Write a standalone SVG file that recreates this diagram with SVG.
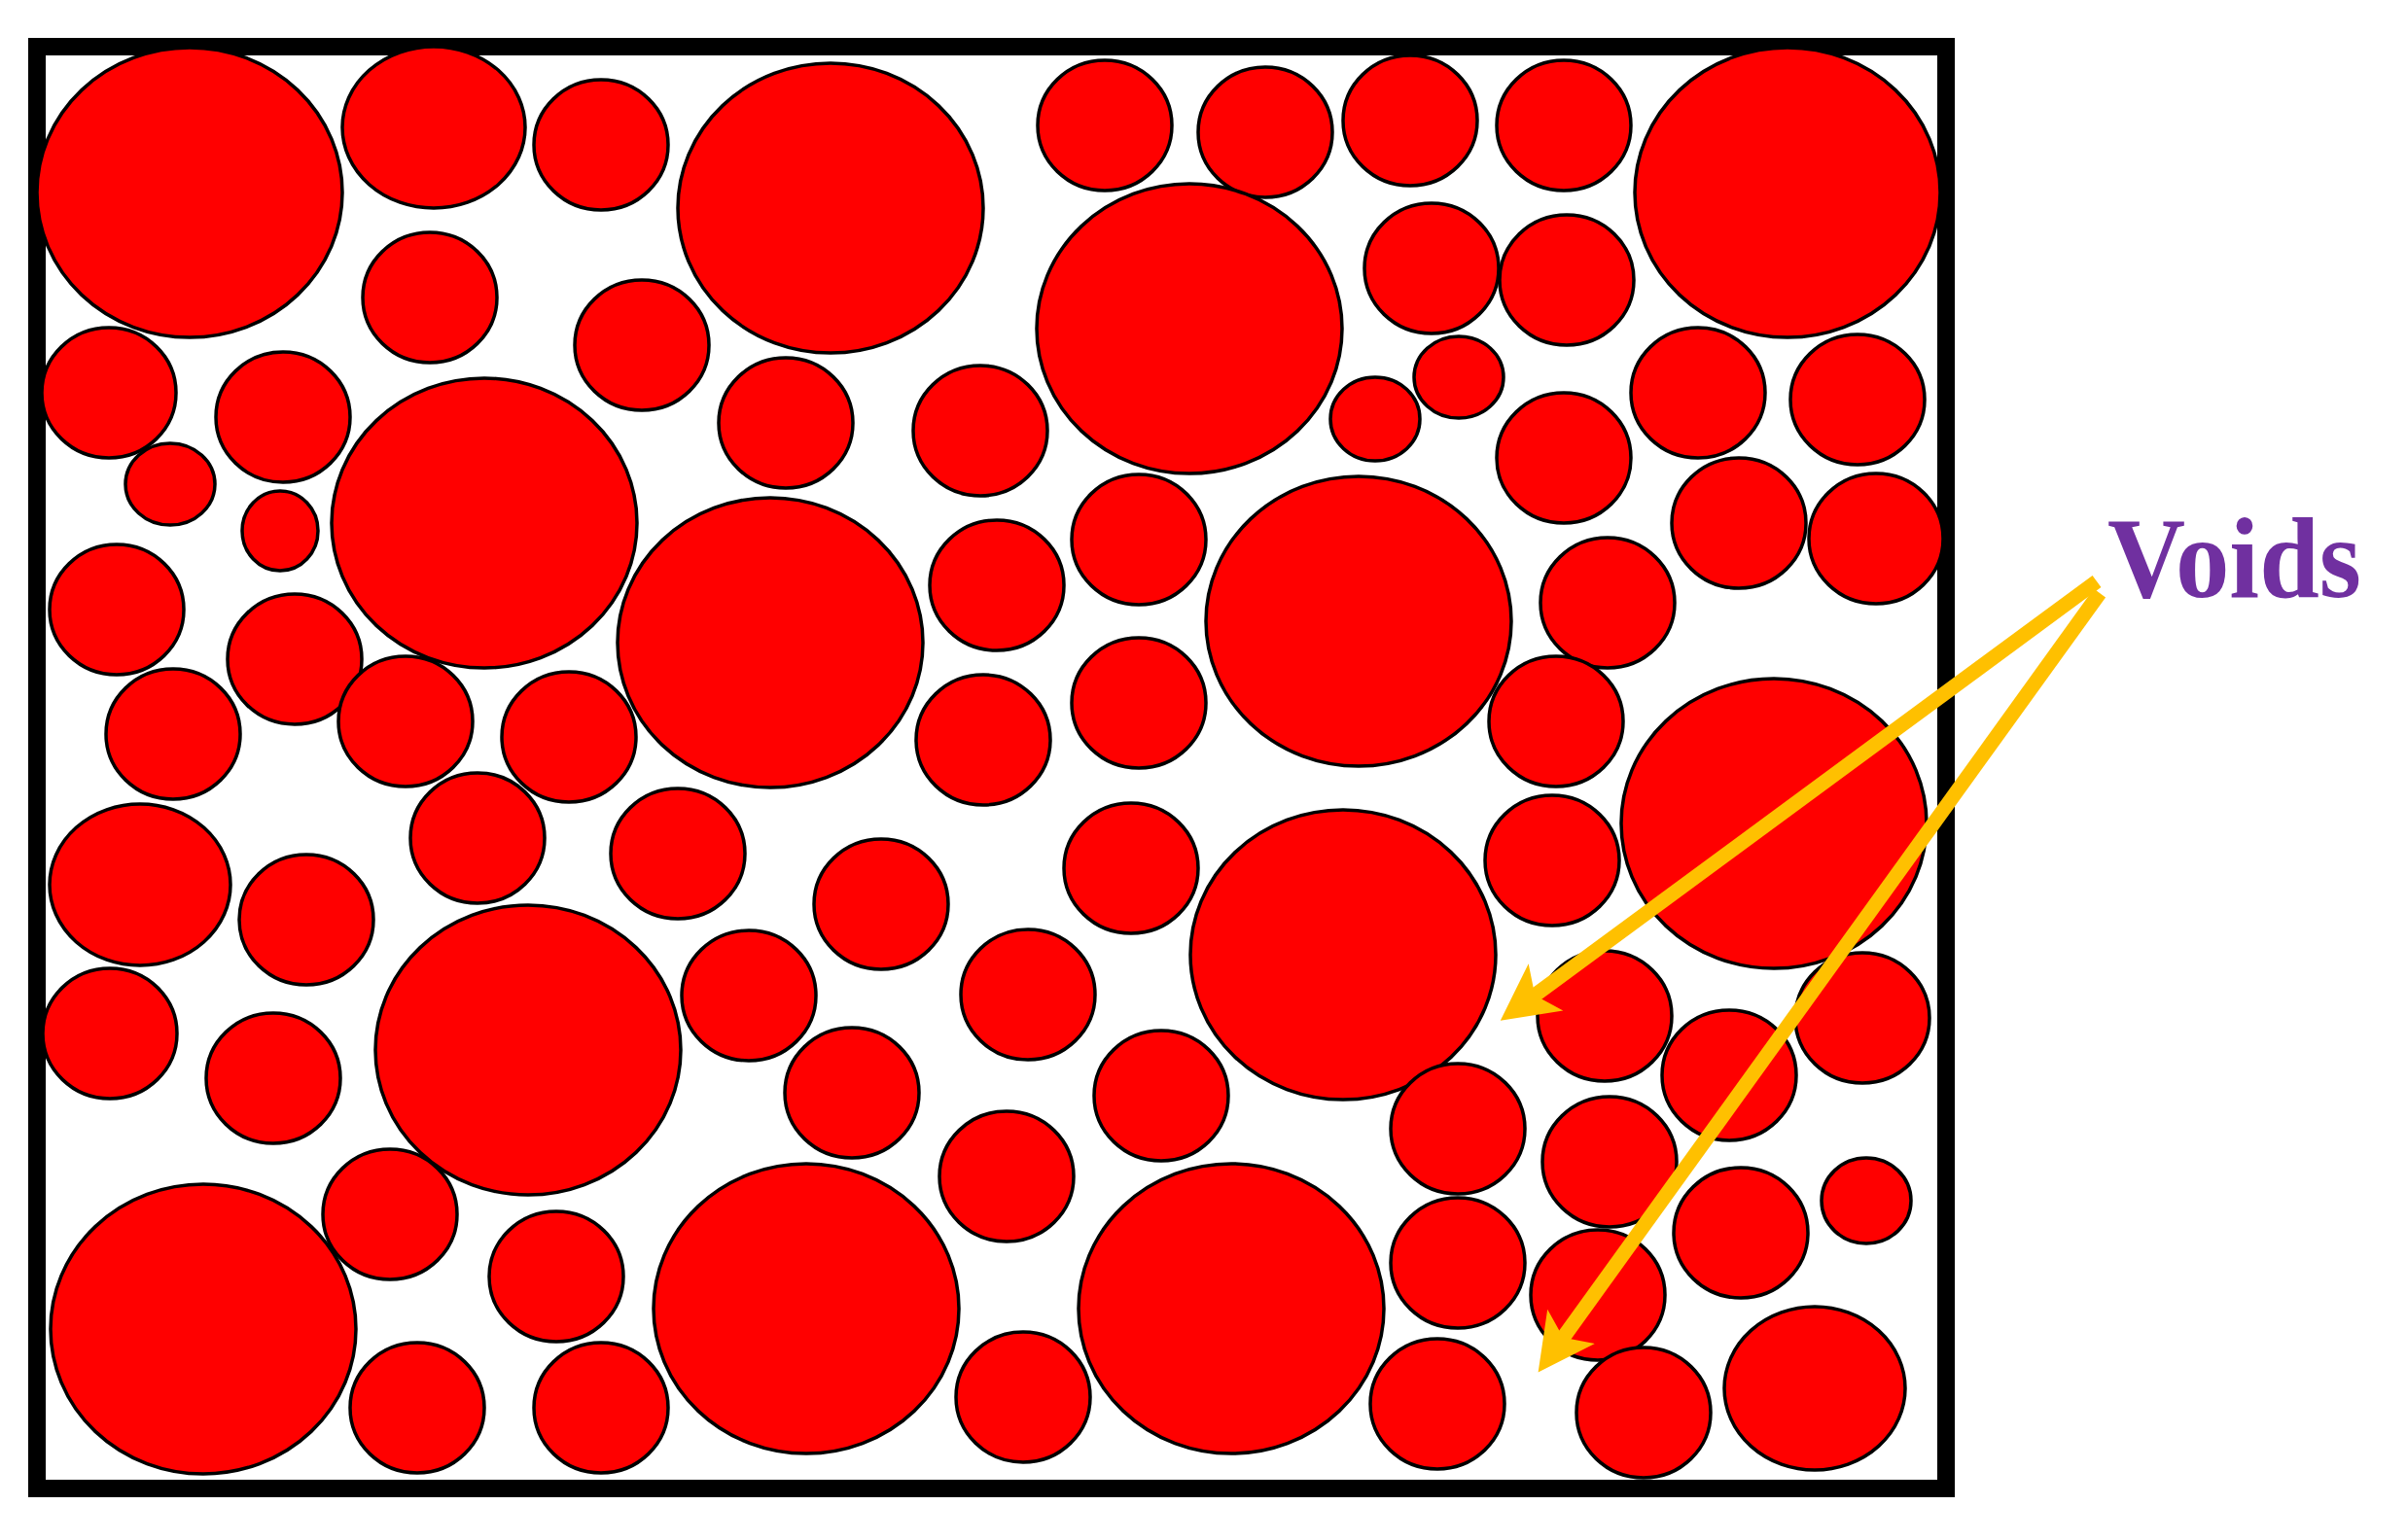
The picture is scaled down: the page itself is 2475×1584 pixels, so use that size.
<svg xmlns="http://www.w3.org/2000/svg" width="2475" height="1584" viewBox="0 0 2475 1584">
<style>
.p{fill:#FF0000;stroke:#000;stroke-width:3.5}
.frame{fill:#fff;stroke:#000;stroke-width:18}
.arr{stroke:#FFC000;stroke-width:15;fill:none;stroke-linecap:butt;marker-end:url(#head)}
.lbl{font-family:"Liberation Serif","Times New Roman",serif;font-weight:bold;font-size:118px;fill:#7030A0}
</style>
<defs>
<marker id="head" markerUnits="userSpaceOnUse" viewBox="0 0 60 64" markerWidth="60" markerHeight="64" refX="18" refY="32" orient="auto">
<path d="M58,32 L0,2 L14,32 L0,62 Z" fill="#FFC000"/>
</marker>
</defs>
<rect width="2475" height="1584" fill="#fff"/>
<rect id="container" class="frame" x="38" y="48" width="1963" height="1483"/>
<g id="particles">
<g id="p1"><ellipse class="p" cx="195" cy="198" rx="157" ry="149"/></g>
<g id="p2"><ellipse class="p" cx="446" cy="131" rx="94" ry="83"/></g>
<g id="p3"><ellipse class="p" cx="618" cy="149" rx="69" ry="67"/></g>
<g id="p4"><ellipse class="p" cx="854" cy="214" rx="157" ry="149"/></g>
<g id="p5"><ellipse class="p" cx="1136" cy="129" rx="69" ry="67"/></g>
<g id="p6"><ellipse class="p" cx="1301" cy="136" rx="69" ry="67"/></g>
<g id="p7"><ellipse class="p" cx="1450" cy="124" rx="69" ry="67"/></g>
<g id="p8"><ellipse class="p" cx="1608" cy="129" rx="69" ry="67"/></g>
<g id="p9"><ellipse class="p" cx="1838" cy="198" rx="157" ry="149"/></g>
<g id="p10"><ellipse class="p" cx="442" cy="306" rx="69" ry="67"/></g>
<g id="p11"><ellipse class="p" cx="660" cy="355" rx="69" ry="67"/></g>
<g id="p12"><ellipse class="p" cx="1223" cy="338" rx="157" ry="149"/></g>
<g id="p13"><ellipse class="p" cx="1472" cy="276" rx="69" ry="67"/></g>
<g id="p14"><ellipse class="p" cx="1611" cy="288" rx="69" ry="67"/></g>
<g id="p15"><ellipse class="p" cx="112" cy="404" rx="69" ry="67"/></g>
<g id="p16"><ellipse class="p" cx="291" cy="429" rx="69" ry="67"/></g>
<g id="p17"><ellipse class="p" cx="808" cy="435" rx="69" ry="67"/></g>
<g id="p18"><ellipse class="p" cx="1008" cy="443" rx="69" ry="67"/></g>
<g id="p19"><ellipse class="p" cx="1500" cy="388" rx="46" ry="42"/></g>
<g id="p20"><ellipse class="p" cx="1414" cy="431" rx="46" ry="43"/></g>
<g id="p21"><ellipse class="p" cx="1746" cy="404" rx="69" ry="67"/></g>
<g id="p22"><ellipse class="p" cx="1910" cy="411" rx="69" ry="67"/></g>
<g id="p23"><ellipse class="p" cx="1608" cy="471" rx="69" ry="67"/></g>
<g id="p24"><ellipse class="p" cx="175" cy="498" rx="46" ry="42"/></g>
<g id="p25"><ellipse class="p" cx="288" cy="546" rx="39" ry="41"/></g>
<g id="p26"><ellipse class="p" cx="498" cy="538" rx="157" ry="149"/></g>
<g id="p27"><ellipse class="p" cx="1788" cy="538" rx="69" ry="67"/></g>
<g id="p28"><ellipse class="p" cx="1929" cy="554" rx="69" ry="67"/></g>
<g id="p29"><ellipse class="p" cx="1171" cy="555" rx="69" ry="67"/></g>
<g id="p30"><ellipse class="p" cx="1025" cy="602" rx="69" ry="67"/></g>
<g id="p31"><ellipse class="p" cx="1397" cy="639" rx="157" ry="149"/></g>
<g id="p32"><ellipse class="p" cx="792" cy="661" rx="157" ry="149"/></g>
<g id="p33"><ellipse class="p" cx="120" cy="627" rx="69" ry="67"/></g>
<g id="p34"><ellipse class="p" cx="1653" cy="620" rx="69" ry="67"/></g>
<g id="p35"><ellipse class="p" cx="303" cy="678" rx="69" ry="67"/></g>
<g id="p36"><ellipse class="p" cx="1171" cy="723" rx="69" ry="67"/></g>
<g id="p37"><ellipse class="p" cx="1011" cy="761" rx="69" ry="67"/></g>
<g id="p38"><ellipse class="p" cx="178" cy="755" rx="69" ry="67"/></g>
<g id="p39"><ellipse class="p" cx="417" cy="742" rx="69" ry="67"/></g>
<g id="p40"><ellipse class="p" cx="585" cy="758" rx="69" ry="67"/></g>
<g id="p41"><ellipse class="p" cx="1600" cy="742" rx="69" ry="67"/></g>
<g id="p42"><ellipse class="p" cx="1824" cy="847" rx="157" ry="149"/></g>
<g id="p43"><ellipse class="p" cx="491" cy="862" rx="69" ry="67"/></g>
<g id="p44"><ellipse class="p" cx="697" cy="878" rx="69" ry="67"/></g>
<g id="p45"><ellipse class="p" cx="144" cy="910" rx="93" ry="83"/></g>
<g id="p46"><ellipse class="p" cx="1163" cy="893" rx="69" ry="67"/></g>
<g id="p47"><ellipse class="p" cx="1596" cy="885" rx="69" ry="67"/></g>
<g id="p48"><ellipse class="p" cx="906" cy="930" rx="69" ry="67"/></g>
<g id="p49"><ellipse class="p" cx="315" cy="946" rx="69" ry="67"/></g>
<g id="p50"><ellipse class="p" cx="1381" cy="982" rx="157" ry="149"/></g>
<g id="p51"><ellipse class="p" cx="1057" cy="1023" rx="69" ry="67"/></g>
<g id="p52"><ellipse class="p" cx="770" cy="1024" rx="69" ry="67"/></g>
<g id="p53"><ellipse class="p" cx="543" cy="1080" rx="157" ry="149"/></g>
<g id="p54"><ellipse class="p" cx="113" cy="1063" rx="69" ry="67"/></g>
<g id="p55"><ellipse class="p" cx="281" cy="1109" rx="69" ry="67"/></g>
<g id="p56"><ellipse class="p" cx="1650" cy="1045" rx="69" ry="67"/></g>
<g id="p57"><ellipse class="p" cx="1915" cy="1047" rx="69" ry="67"/></g>
<g id="p58"><ellipse class="p" cx="876" cy="1124" rx="69" ry="67"/></g>
<g id="p59"><ellipse class="p" cx="1194" cy="1127" rx="69" ry="67"/></g>
<g id="p60"><ellipse class="p" cx="1778" cy="1106" rx="69" ry="67"/></g>
<g id="p61"><ellipse class="p" cx="1499" cy="1161" rx="69" ry="67"/></g>
<g id="p62"><ellipse class="p" cx="1655" cy="1195" rx="69" ry="67"/></g>
<g id="p63"><ellipse class="p" cx="1035" cy="1210" rx="69" ry="67"/></g>
<g id="p64"><ellipse class="p" cx="401" cy="1249" rx="69" ry="67"/></g>
<g id="p65"><ellipse class="p" cx="1790" cy="1268" rx="69" ry="67"/></g>
<g id="p66"><ellipse class="p" cx="1919" cy="1235" rx="46" ry="44"/></g>
<g id="p67"><ellipse class="p" cx="209" cy="1367" rx="157" ry="149"/></g>
<g id="p68"><ellipse class="p" cx="572" cy="1313" rx="69" ry="67"/></g>
<g id="p69"><ellipse class="p" cx="829" cy="1346" rx="157" ry="149"/></g>
<g id="p70"><ellipse class="p" cx="1266" cy="1346" rx="157" ry="149"/></g>
<g id="p71"><ellipse class="p" cx="1499" cy="1299" rx="69" ry="67"/></g>
<g id="p72"><ellipse class="p" cx="1643" cy="1332" rx="69" ry="67"/></g>
<g id="p73"><ellipse class="p" cx="429" cy="1448" rx="69" ry="67"/></g>
<g id="p74"><ellipse class="p" cx="618" cy="1448" rx="69" ry="67"/></g>
<g id="p75"><ellipse class="p" cx="1052" cy="1437" rx="69" ry="67"/></g>
<g id="p76"><ellipse class="p" cx="1478" cy="1444" rx="69" ry="67"/></g>
<g id="p77"><ellipse class="p" cx="1690" cy="1453" rx="69" ry="67"/></g>
<g id="p78"><ellipse class="p" cx="1866" cy="1428" rx="93" ry="84"/></g>
</g>
<g id="connectors">
<line class="arr" x1="2156" y1="598" x2="1575" y2="1026"/>
<line class="arr" x1="2159" y1="610" x2="1605" y2="1379"/>
</g>
<g id="label-voids">
<text class="lbl" x="2167" y="614" textLength="261" lengthAdjust="spacingAndGlyphs">Voids</text>
</g>
</svg>
